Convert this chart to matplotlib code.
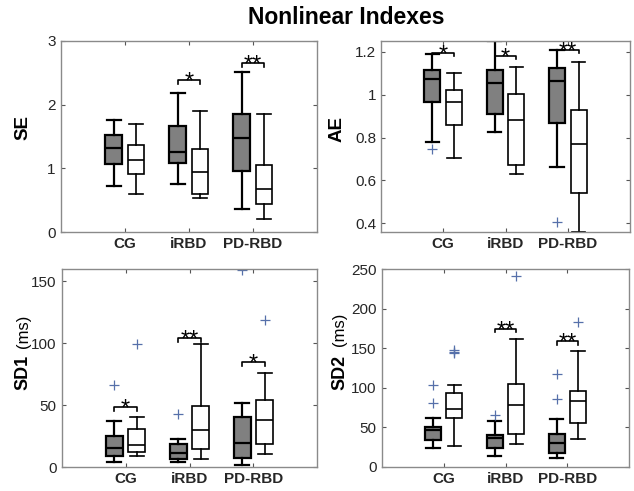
import matplotlib
matplotlib.use('Agg')
import matplotlib.pyplot as plt
from matplotlib.ticker import FuncFormatter

plt.rcParams['font.family'] = ['Liberation Sans', 'DejaVu Sans']

# groups and five-number summaries [low whisker, q1, median, q3, high whisker]
groups = ['CG', 'iRBD', 'PD-RBD']

se_gray = [[0.73, 1.07, 1.32, 1.53, 1.76], [0.75, 1.08, 1.26, 1.66, 2.18], [0.36, 0.96, 1.47, 1.86, 2.52]]
se_white = [[0.60, 0.91, 1.13, 1.36, 1.70], [0.53, 0.60, 0.94, 1.31, 1.90], [0.21, 0.44, 0.68, 1.06, 1.86]]
se_out_gray = [[], [], []]
se_out_white = [[], [], []]
se_sig = ['', '*', '**']
se_sig_y = [None, 2.38, 2.65]

ae_gray = [[0.781, 0.968, 1.072, 1.114, 1.19], [0.825, 0.912, 1.052, 1.114, 1.25], [0.663, 0.867, 1.065, 1.122, 1.208]]
ae_white = [[0.703, 0.859, 0.968, 1.024, 1.102], [0.629, 0.674, 0.881, 1.005, 1.127], [0.36, 0.542, 0.770, 0.928, 1.153]]
ae_out_gray = [[0.749], [], [0.406]]
ae_out_white = [[], [], []]
ae_sig = ['*', '*', '**']
ae_sig_y = [1.195, 1.18, 1.208]

sd1_gray = [[4.6, 9.2, 15.3, 25.3, 37.4], [4.0, 6.7, 11.8, 18.8, 23.2], [1.9, 7.5, 19.7, 40.9, 52.2]]
sd1_white = [[8.9, 12.1, 18.0, 31.0, 40.7], [6.7, 15.1, 30.4, 49.5, 99.4], [10.8, 19.1, 38.2, 54.4, 75.9]]
sd1_out_gray = [[66.5], [43.1], [159.0]]
sd1_out_white = [[99.4], [], [118.7]]
sd1_sig = ['*', '**', '*']
sd1_sig_y = [48.5, 104.0, 85.0]

sd2_gray = [[23.3, 33.5, 47.1, 50.5, 62.0], [13.2, 24.2, 36.1, 40.3, 58.1], [11.0, 17.4, 29.7, 41.6, 59.8]]
sd2_white = [[26.3, 61.5, 73.4, 93.8, 103.6], [28.9, 41.2, 78.1, 104.8, 161.3], [34.8, 55.2, 82.8, 95.9, 146.4]]
sd2_out_gray = [[103.6, 81.1], [64.9], [117.0, 86.2]]
sd2_out_white = [[147.7, 145.5, 143.5], [241.9], [182.9]]
sd2_sig = ['', '**', '**']
sd2_sig_y = [None, 174.5, 159.0]

W, H = 634, 491
fig = plt.figure(figsize=(W / 100, H / 100), dpi=100)


def px_axes(l, t, r, b):
    return fig.add_axes([l / W, 1 - b / H, (r - l) / W, (b - t) / H])


def to_stats(rows, outs):
    return [dict(whislo=r[0], q1=r[1], med=r[2], q3=r[3], whishi=r[4], fliers=o)
            for r, o in zip(rows, outs)]


def panel(ax, gray, white, out_g, out_w, sig, sig_y, ylim, yticks, fmt):
    pos = [1, 2, 3]
    off = 0.175
    flier = dict(marker='+', markeredgecolor='#5670aa', markersize=7, markeredgewidth=0.9, linestyle='none')
    ax.bxp(to_stats(gray, out_g), positions=[p - off for p in pos], widths=0.26,
           patch_artist=True, manage_ticks=False, capwidths=0.22,
           boxprops=dict(facecolor='#808080', edgecolor='black', linewidth=1.6),
           whiskerprops=dict(color='black', linewidth=1.6),
           capprops=dict(color='black', linewidth=1.6),
           medianprops=dict(color='black', linewidth=1.6),
           flierprops=flier)
    ax.bxp(to_stats(white, out_w), positions=[p + off for p in pos], widths=0.26,
           patch_artist=True, manage_ticks=False, capwidths=0.22,
           boxprops=dict(facecolor='white', edgecolor='black', linewidth=1.2),
           whiskerprops=dict(color='black', linewidth=1.2),
           capprops=dict(color='black', linewidth=1.2),
           medianprops=dict(color='black', linewidth=1.2),
           flierprops=flier)
    ax.set_xlim(0, 4)
    ax.set_ylim(*ylim)
    ax.set_yticks(yticks)
    ax.yaxis.set_major_formatter(fmt)
    ax.set_xticks(pos)
    ax.set_xticklabels(groups, fontweight='bold', fontsize=10.5)
    ax.tick_params(direction='in', length=3, top=True, right=True, labelsize=11,
                   color='#555555', labelcolor='#262626')
    for s in ax.spines.values():
        s.set_color('#8a8a8a')
        s.set_linewidth(1.0)
    dy = 0.018 * (ylim[1] - ylim[0])
    for p, lab, y in zip(pos, sig, sig_y):
        if not lab:
            continue
        ax.plot([p - off, p - off, p + off, p + off], [y - dy, y, y, y - dy],
                color='black', linewidth=1.2, clip_on=False)
        ax.annotate(lab, xy=(p, y), xytext=(0, -6), textcoords='offset points',
                    ha='center', va='baseline', fontsize=17, annotation_clip=False)


g = FuncFormatter(lambda v, p: '%g' % round(v, 2))

ax1 = px_axes(60.7, 41, 317, 232)
panel(ax1, se_gray, se_white, se_out_gray, se_out_white, se_sig, se_sig_y, (0, 3), [0, 1, 2, 3], g)
ax2 = px_axes(381, 41, 630, 232)
panel(ax2, ae_gray, ae_white, ae_out_gray, ae_out_white, ae_sig, ae_sig_y, (0.36, 1.25), [0.4, 0.6, 0.8, 1.0, 1.2], g)
ax3 = px_axes(61.7, 269, 317.3, 467.3)
panel(ax3, sd1_gray, sd1_white, sd1_out_gray, sd1_out_white, sd1_sig, sd1_sig_y, (0, 160), [0, 50, 100, 150], g)
ax4 = px_axes(381.7, 269.3, 629.3, 466.7)
panel(ax4, sd2_gray, sd2_white, sd2_out_gray, sd2_out_white, sd2_sig, sd2_sig_y, (0, 250), [0, 50, 100, 150, 200, 250], g)


def ylab(x, y, s, **kw):
    fig.text(x / W, 1 - y / H, s, rotation=90, ha='center', va='center', **kw)


ylab(22.5, 127.5, 'SE', fontsize=13.5, fontweight='bold')
ylab(337.5, 129, 'AE', fontsize=13.5, fontweight='bold')
ylab(23, 372, 'SD1', fontsize=13, fontweight='bold')
ylab(24, 331, '(ms)', fontsize=12)
ylab(339.5, 372, 'SD2', fontsize=13, fontweight='bold')
ylab(340, 329, '(ms)', fontsize=12)

fig.text(346 / W, 1 - 18 / H, 'Nonlinear Indexes', ha='center', va='center',
         fontsize=16.5, fontweight='bold')

fig.savefig('out.png', dpi=100)
